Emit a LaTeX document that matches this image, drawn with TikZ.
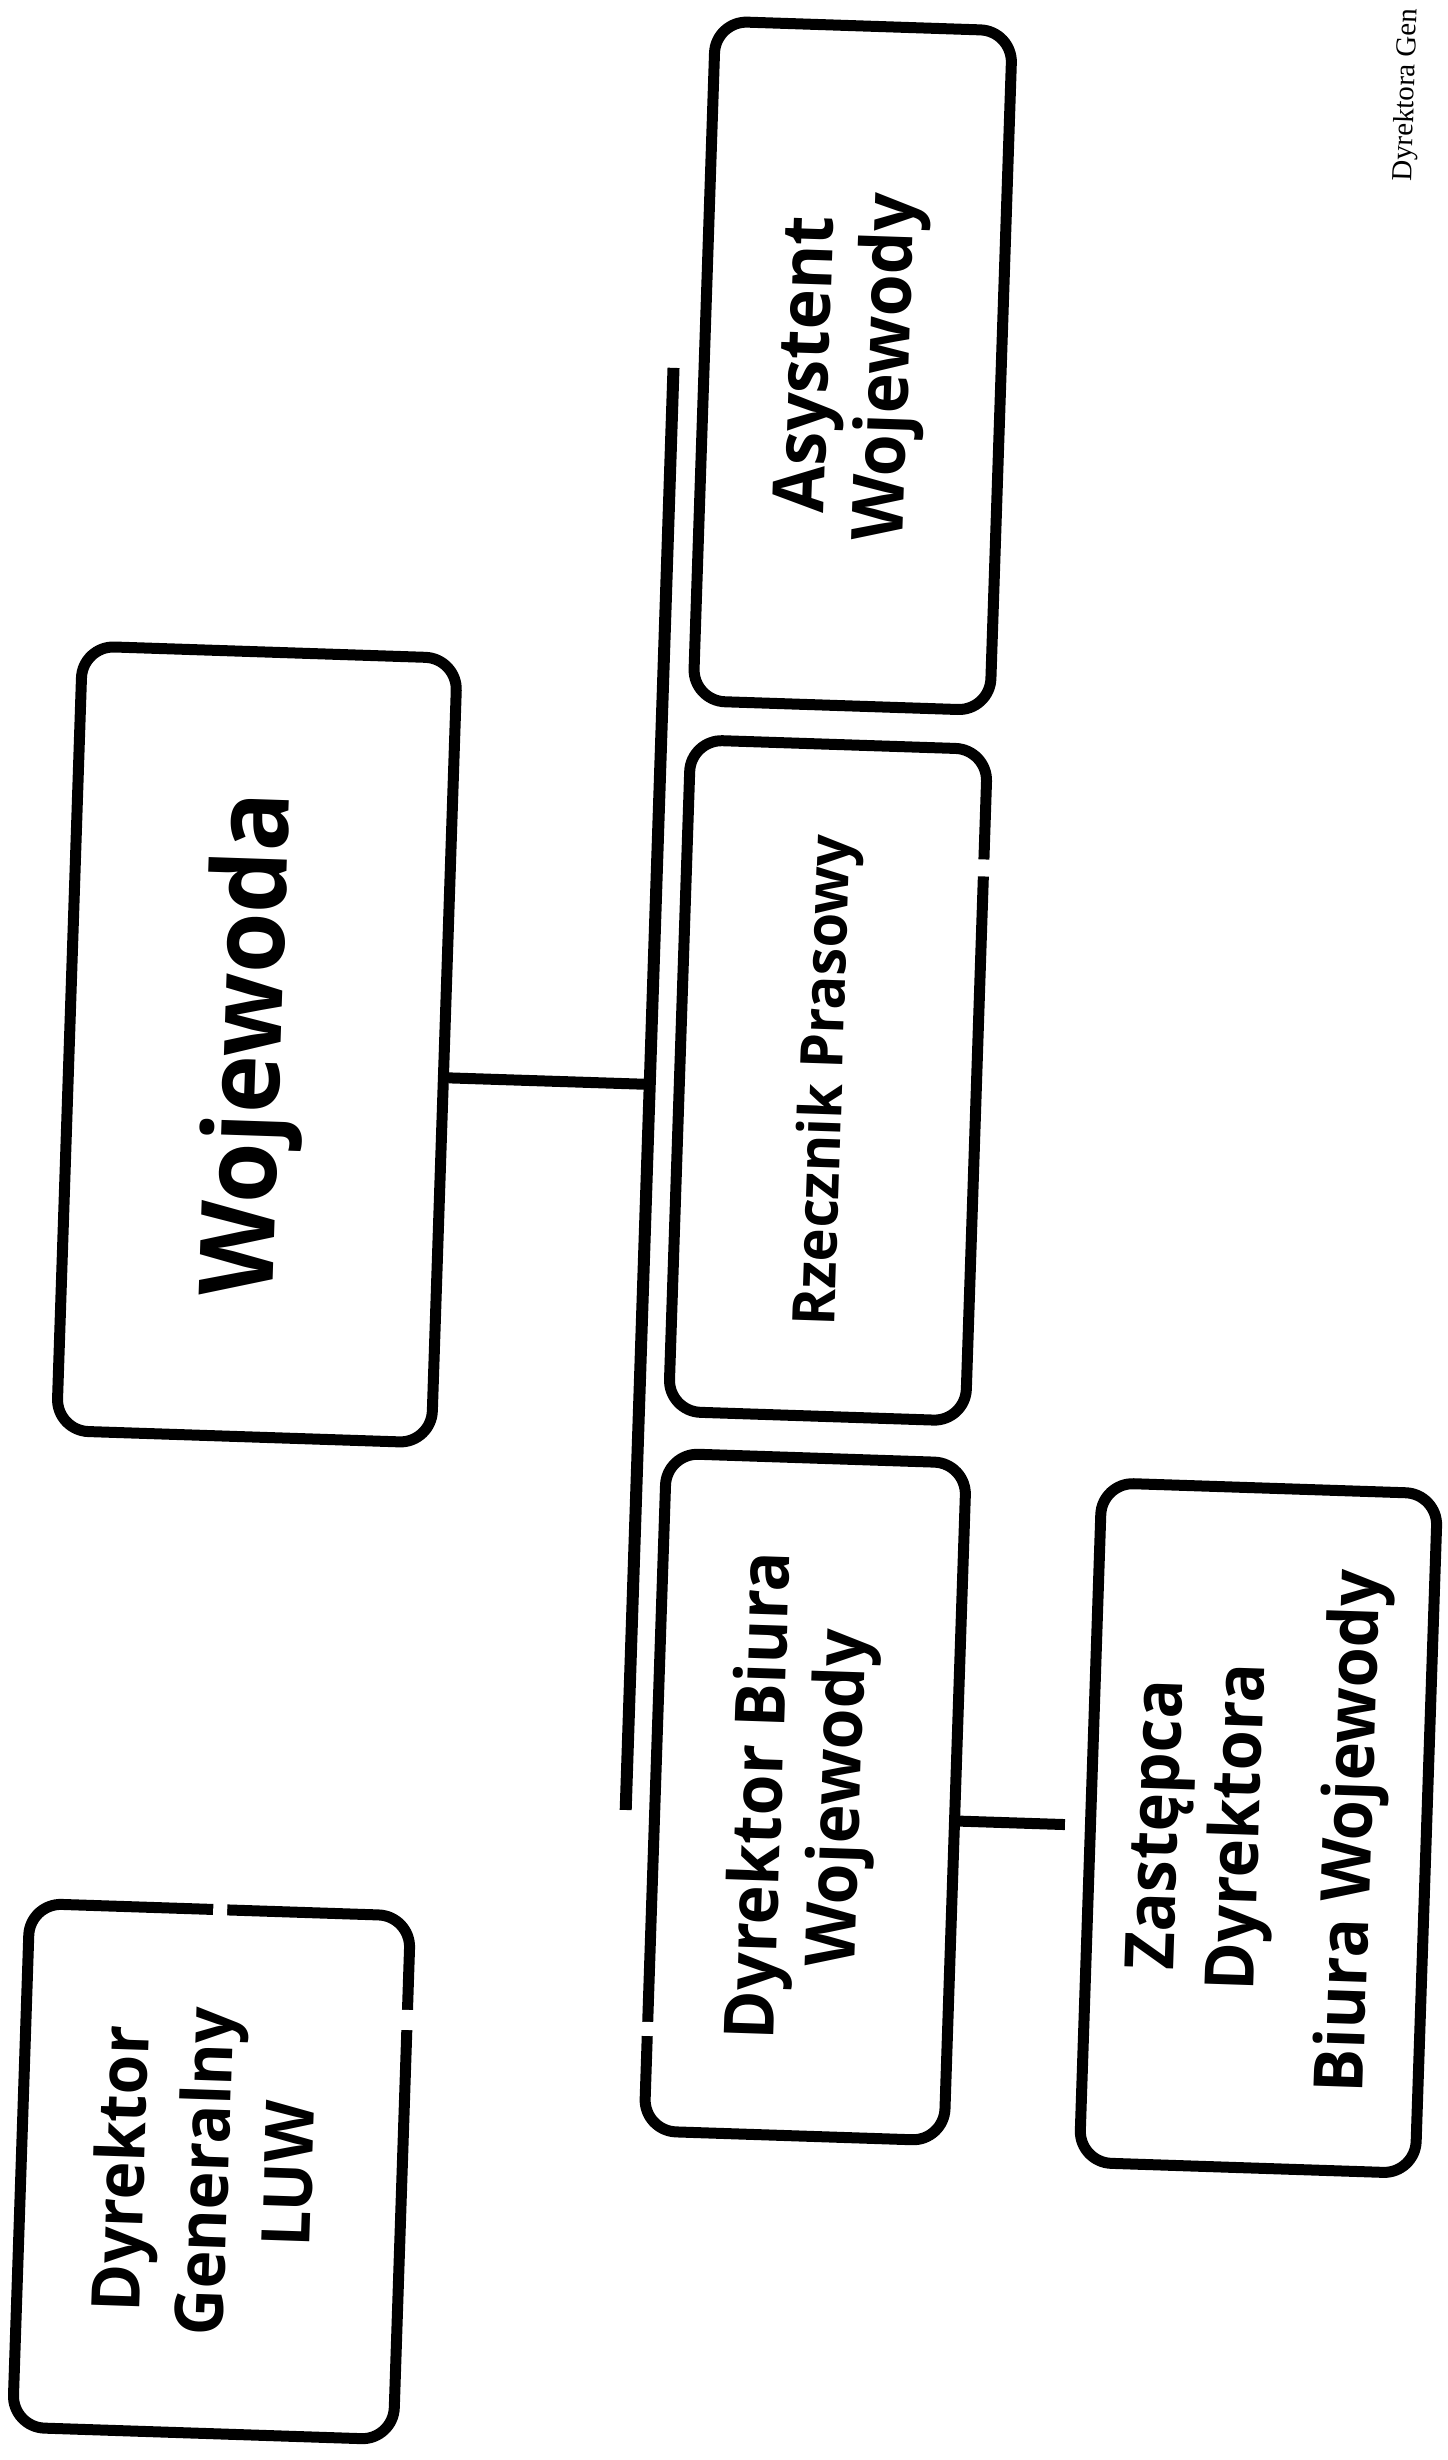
\documentclass[tikz,border=0pt]{standalone}
\usepackage{fontspec}
\setmainfont{Open Sans}
\newfontfamily\serifgen{Liberation Serif}
\usepackage{graphicx}
\newcommand{\boxtext}[3]{\rotatebox{90}{\scalebox{1}[1.05]{\fontsize{#1}{#2}\selectfont\bfseries\begin{tabular}{@{}c@{}}#3\end{tabular}}}}
\begin{document}
\begin{tikzpicture}[x=0.5pt,y=-0.5pt,
  box/.style={draw=black, line width=5.5pt, rounded corners=16pt, fill=white, inner sep=0pt, transform shape},
  link/.style={draw=black, line width=5.5pt},
  vline/.style={draw=black, line width=6pt},
  gapmark/.style={fill=white}
]
\useasboundingbox (0,0) rectangle (1447,2460);
\fill[white] (0,0) rectangle (1447,2460);
\begin{scope}[rotate around={-1.9:(723.5,1230)}]
  % boxes
  \node[box, minimum width=187.5pt, minimum height=392.5pt] (woj) at (251,1060)
    {\boxtext{49}{58}{Wojewoda}};
  \node[box, minimum width=148.5pt, minimum height=340pt] (asy) at (824,362)
    {\boxtext{34}{38}{Asystent\\Wojewody}};
  \node[box, minimum width=148.5pt, minimum height=336pt] (rze) at (823,1077)
    {\boxtext{28}{34}{Rzecznik Prasowy}};
  \node[box, minimum width=150pt, minimum height=339pt] (dbw) at (824,1794)
    {\boxtext{33}{37.3}{Dyrektor Biura\\Wojewody}};
  \node[box, minimum width=168pt, minimum height=340pt] (zas) at (1278,1810)
    {\boxtext{32.5}{38.6}{Zastępca\\Dyrektora\\[15pt]Biura Wojewody}};
  \node[box, minimum width=190.5pt, minimum height=262pt] (dgl) at (243,2188)
    {\boxtext{32}{40}{Dyrektor\\Generalny\\LUW}};
  % spine
  \coordinate (vtop) at (645,370);
  \coordinate (vbot) at (645,1813);
  \coordinate (jw) at (645,1087);
  \draw[vline] (vtop) -- (vbot);
  \draw[link] (woj.-8.2) -- (jw);
  \draw[link, shorten >=10pt] (dbw.-7.4) -- (zas.181.2);
  % scan gaps in borders
  \fill[gapmark] (962,851) rectangle (981,868);
  \fill[gapmark] (665,2024) rectangle (683,2038);
  \fill[gapmark] (236,1916) rectangle (250,1936);
  \fill[gapmark] (424,2020) rectangle (443,2040);
  % cut-off header text
  \node[rotate=90, anchor=base west, inner sep=0pt, transform shape,
        font=\serifgen\fontsize{14.5}{17}\selectfont] (hdr) at (1376,160) {Dyrektora Gen};
\end{scope}
\end{tikzpicture}
\end{document}
